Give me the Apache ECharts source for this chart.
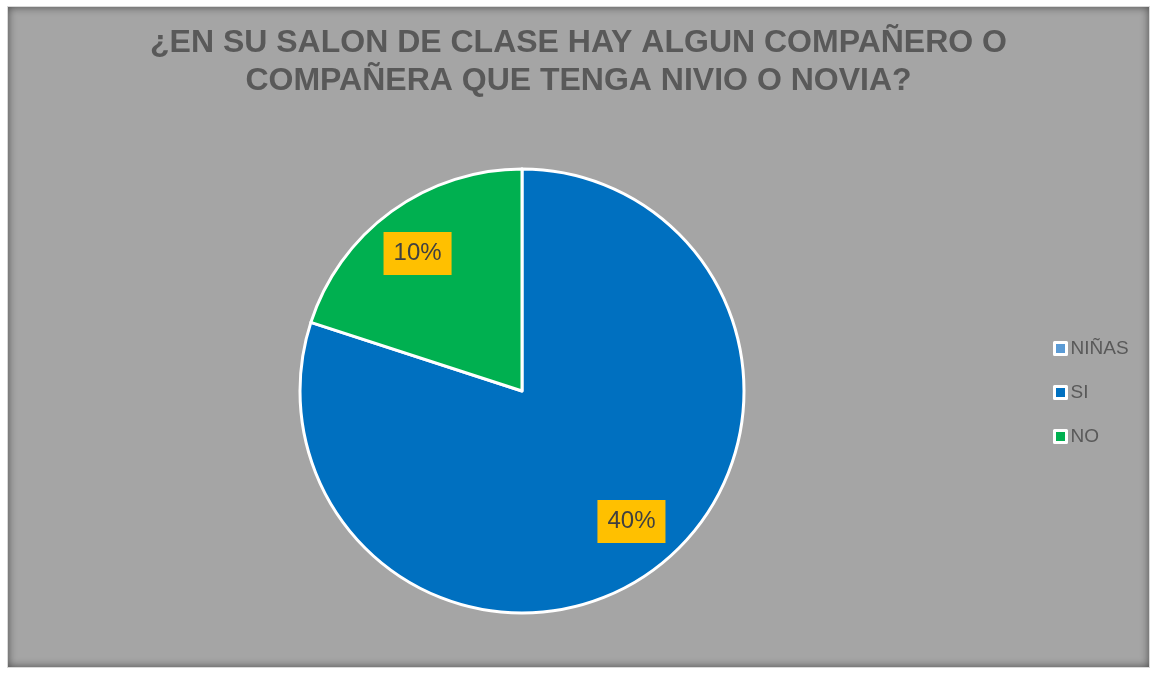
<!DOCTYPE html>
<html>
<head>
<meta charset="utf-8">
<script src="https://cdn.jsdelivr.net/npm/echarts@6/dist/echarts.min.js"></script>
<style>
    html, body {
        margin: 0;
        padding: 0;
        background: #ffffff;
    }
    #myChart {
        position: absolute;
        left: 7px;
        top: 6px;
        width: 1143px;
        height: 662px;
        background: #a5a5a5;
        border: 1px solid #d9d9d9;
        box-sizing: border-box;
        box-shadow: inset 0 0 9px rgba(0, 0, 0, 0.55);
    }
</style>
</head>
<body>
<div id="myChart"></div>
<script>
    // datos
    var titleText = '¿EN SU SALON DE CLASE HAY ALGUN COMPAÑERO O\nCOMPAÑERA QUE TENGA NIVIO O NOVIA?';
    var categories = ['NIÑAS', 'SI', 'NO'];
    var values = [0, 40, 10];
    var colors = ['#5B9BD5', '#0070C0', '#00B050'];

    // pequeno ajuste de las etiquetas (como las coloca Excel)
    var labelOffsets = [[0, 0], [6, -12], [-1, 5]];

    var pieData = [];
    var labelData = [];
    for (var i = 0; i < categories.length; i++) {
        pieData.push({
            name: categories[i],
            value: values[i],
            itemStyle: {color: colors[i]}
        });
        labelData.push({
            name: categories[i],
            value: values[i],
            label: {show: values[i] > 0, offset: labelOffsets[i]}
        });
    }

    var myChart = echarts.init(document.getElementById('myChart'));
    myChart.setOption({
        animation: false,
        title: {
            text: titleText,
            left: 'center',
            top: 12,
            textStyle: {
                fontFamily: 'Liberation Sans',
                fontSize: 32,
                fontWeight: 'bold',
                lineHeight: 38,
                color: '#595959'
            }
        },
        legend: {
            orient: 'vertical',
            left: 1040,
            top: 327,
            itemGap: 25,
            itemWidth: 12,
            itemHeight: 12,
            icon: 'rect',
            data: categories,
            itemStyle: {
                borderColor: '#ffffff',
                borderWidth: 3
            },
            textStyle: {
                fontFamily: 'Liberation Sans',
                fontSize: 19,
                color: '#595959',
                padding: [0, 0, 0, -1]
            }
        },
        series: [
            {
                name: 'pie',
                type: 'pie',
                center: [514, 384],
                radius: [0, 222],
                startAngle: 90,
                clockwise: true,
                silent: true,
                itemStyle: {
                    borderColor: '#ffffff',
                    borderWidth: 3
                },
                label: {show: false},
                labelLine: {show: false},
                data: pieData
            },
            {
                // serie transparente solo para ubicar las etiquetas
                name: 'labels',
                type: 'pie',
                center: [514, 384],
                radius: [124, 222],
                startAngle: 90,
                clockwise: true,
                silent: true,
                itemStyle: {
                    color: 'rgba(0,0,0,0)',
                    borderWidth: 0
                },
                label: {
                    show: true,
                    position: 'inside',
                    formatter: '{c}%',
                    fontFamily: 'Liberation Sans',
                    fontSize: 24,
                    lineHeight: 25,
                    color: '#404040',
                    backgroundColor: '#FFC000',
                    padding: [9, 10]
                },
                labelLine: {show: false},
                data: labelData
            }
        ]
    });
</script>
</body>
</html>
